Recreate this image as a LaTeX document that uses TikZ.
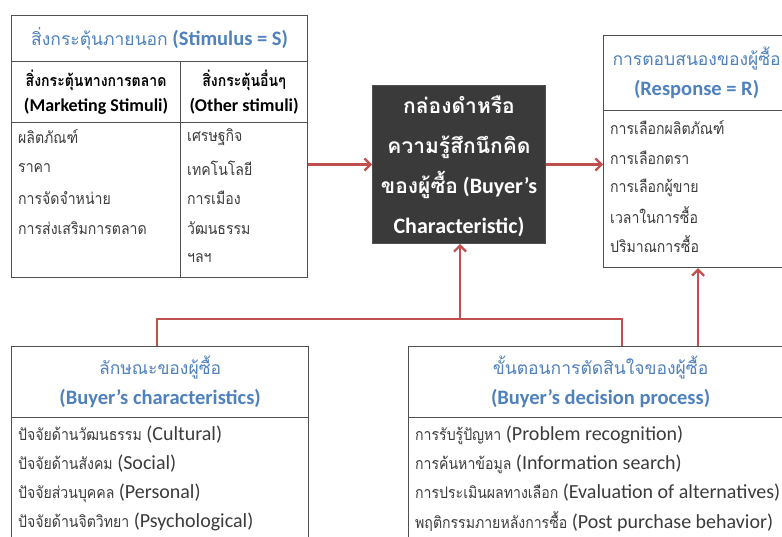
\documentclass[tikz,border=0pt]{standalone}
\usepackage{fontspec}
\setmainfont{Carlito}
\newfontfamily\thaifont[Script=Thai,FakeStretch=0.88]{Loma}
\newfontfamily\thaiwide[Script=Thai]{Loma}
\newcommand{\thi}[1]{{\fontsize{16}{\baselineskip}\selectfont\thaifont #1}}
\newcommand{\tht}[1]{{\fontsize{17.5}{\baselineskip}\selectfont\thaiwide\mdseries #1}}
\newcommand{\thb}[1]{{\fontsize{21}{\baselineskip}\selectfont\thaiwide #1}}
\usetikzlibrary{arrows.meta}
\definecolor{arrowred}{HTML}{C0504D}
\definecolor{titleblue}{HTML}{4F81BD}
\definecolor{bordergray}{HTML}{505050}
\definecolor{textgray}{HTML}{3C3C3C}
\definecolor{blackfill}{HTML}{3A3A3A}
\tikzset{
 cell/.style={draw=bordergray, line width=1.2pt, anchor=north west, inner sep=0pt},
 ttl/.style={text=titleblue, font=\fontsize{20.5}{30}\selectfont\bfseries, align=center},
 hdr/.style={text=black, font=\fontsize{18}{25}\selectfont\bfseries, align=center},
 itm/.style={anchor=west, text=textgray, font=\fontsize{20}{22}\selectfont, inner sep=0pt},
 blkbox/.style={draw=bordergray, fill=blackfill, line width=1pt, anchor=north west, inner sep=0pt},
 blktext/.style={text=white, font=\fontsize{22}{40}\selectfont\bfseries, align=center},
 conn/.style={draw=arrowred, line width=2.2pt},
 arr/.style={conn, -{Straight Barb[length=6pt,width=12pt]}},
}
\begin{document}
\begin{tikzpicture}[x=1pt,y=-1pt]
\clip (0,0) rectangle (782,537);
\fill[white] (0,0) rectangle (782,537);

% Stimulus table
\node[cell, minimum width=296, minimum height=46] (stimT) at (11,15) {};
\node[cell, minimum width=169, minimum height=61] (stimH1) at (11,61) {};
\node[cell, minimum width=127, minimum height=61] (stimH2) at (180,61) {};
\node[cell, minimum width=169, minimum height=155] (stimB1) at (11,122) {};
\node[cell, minimum width=127, minimum height=155] (stimB2) at (180,122) {};
\node[ttl] (stimTt) at (stimT.center) {\tht{สิ่งกระตุ้นภายนอก} (Stimulus = S)};
\node[hdr] (stimH1t) at (stimH1.center) {\thi{สิ่งกระตุ้นทางการตลาด}\\(Marketing Stimuli)};
\node[hdr] (stimH2t) at (stimH2.center) {\thi{สิ่งกระตุ้นอื่นๆ}\\(Other stimuli)};
\node[itm] (m1) at (18,137) {\thi{ผลิตภัณฑ์}};
\node[itm] (m2) at (18,168) {\thi{ราคา}};
\node[itm] (m3) at (18,198) {\thi{การจัดจำหน่าย}};
\node[itm] (m4) at (18,228) {\thi{การส่งเสริมการตลาด}};
\node[itm] (o1) at (187,137) {\thi{เศรษฐกิจ}};
\node[itm] (o2) at (187,168) {\thi{เทคโนโลยี}};
\node[itm] (o3) at (187,198) {\thi{การเมือง}};
\node[itm] (o4) at (187,228) {\thi{วัฒนธรรม}};
\node[itm] (o5) at (187,258) {\thi{ฯลฯ}};

% Black box
\node[blkbox, minimum width=173, minimum height=158] (blk) at (372,85) {};
\node[blktext] (blkt) at ([yshift=-2pt]blk.center) {\thb{กล่องดำหรือ}\\\thb{ความรู้สึกนึกคิด}\\\thb{ของผู้ซื้อ} (Buyer’s\\Characteristic)};

% Response box
\node[cell, minimum width=186, minimum height=75] (respT) at (603,35) {};
\node[cell, minimum width=186, minimum height=157] (resp) at (603,110) {};
\node[ttl] (respTt) at (respT.center) {\tht{การตอบสนองของผู้ซื้อ}\\(Response = R)};
\node[itm] (r1) at (610,128) {\thi{การเลือกผลิตภัณฑ์}};
\node[itm] (r2) at (610,158) {\thi{การเลือกตรา}};
\node[itm] (r3) at (610,188) {\thi{การเลือกผู้ขาย}};
\node[itm] (r4) at (610,215) {\thi{เวลาในการซื้อ}};
\node[itm] (r5) at (610,244) {\thi{ปริมาณการซื้อ}};

% Buyer's characteristics
\node[cell, minimum width=297, minimum height=71] (bcT) at (11,346) {};
\node[cell, minimum width=297, minimum height=140] (bc) at (11,417) {};
\node[ttl] (bcTt) at (bcT.center) {\tht{ลักษณะของผู้ซื้อ}\\(Buyer’s characteristics)};
\node[itm] (c1) at (18,435) {\thi{ปัจจัยด้านวัฒนธรรม} (Cultural)};
\node[itm] (c2) at (18,464) {\thi{ปัจจัยด้านสังคม} (Social)};
\node[itm] (c3) at (18,493) {\thi{ปัจจัยส่วนบุคคล} (Personal)};
\node[itm] (c4) at (18,522) {\thi{ปัจจัยด้านจิตวิทยา} (Psychological)};

% Buyer's decision process
\node[cell, minimum width=384, minimum height=71] (bdT) at (408,346) {};
\node[cell, minimum width=384, minimum height=140] (bd) at (408,417) {};
\node[ttl] (bdTt) at (bdT.center) {\tht{ขั้นตอนการตัดสินใจของผู้ซื้อ}\\(Buyer’s decision process)};
\node[itm] (d1) at (415,435) {\thi{การรับรู้ปัญหา} (Problem recognition)};
\node[itm] (d2) at (415,464) {\thi{การค้นหาข้อมูล} (Information search)};
\node[itm] (d3) at (415,493) {\thi{การประเมินผลทางเลือก} (Evaluation of alternatives)};
\node[itm] (d4) at (415,522) {\thi{พฤติกรรมภายหลังการซื้อ} (Post purchase behavior)};

% Connectors
\draw[arr] (stimB2.east |- blk.west) -- (blk.west);
\draw[arr] (blk.east) -- (resp.west |- blk.east);
\coordinate (jl) at (157,319);
\coordinate (jm) at (460,319);
\coordinate (jr) at (622,319);
\coordinate (rb) at (698,346);
\draw[conn] (bcT.north -| jl) -- (jl) -- (jr) -- (bdT.north -| jr);
\draw[arr] (jm) -- (blk.south -| jm);
\draw[arr] (rb) -- (resp.south -| rb);
\end{tikzpicture}
\end{document}
